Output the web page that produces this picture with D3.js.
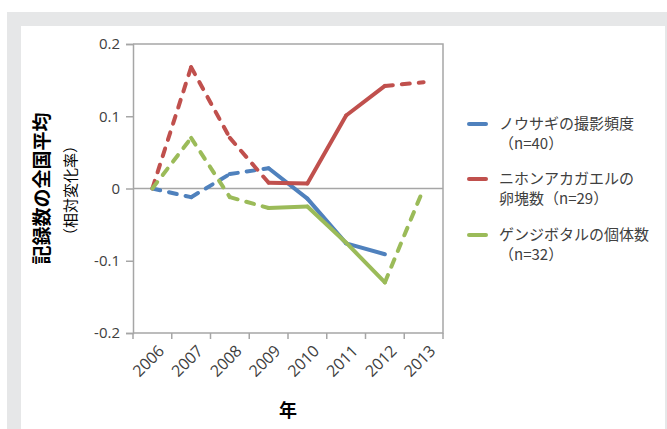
<!DOCTYPE html>
<html>
<head>
<meta charset="utf-8">
<script src="https://cdn.jsdelivr.net/npm/d3@7"></script>
<style>
  html, body { margin: 0; padding: 0; background: #ffffff; }
  svg { display: block; }
</style>
</head>
<body>
<svg id="chart" width="667" height="429"></svg>
<script>
// Years on the horizontal axis
const years = ["2006", "2007", "2008", "2009", "2010", "2011", "2012", "2013"];

// Relative change of the national mean record count per year
const hareValues = [0, -0.012, 0.02, 0.028, -0.014, -0.076, -0.091, null];
const frogValues = [0, 0.168, 0.07, 0.008, 0.007, 0.101, 0.142, 0.147];
const fireflyValues = [0, 0.07, -0.012, -0.027, -0.025, -0.075, -0.13, 0];

// Segment i joins year i and year i+1; true = dashed
const hareDashed = [true, true, true, false, false, false, false];
const frogDashed = [true, true, true, false, false, false, true];
const fireflyDashed = [true, true, true, false, false, false, true];

const seriesNames = [
  ["ノウサギの撮影頻度", "（n=40）"],
  ["ニホンアカガエルの", "卵塊数（n=29）"],
  ["ゲンジボタルの個体数", "（n=32）"]
];
const seriesColors = ["#4f81bd", "#c0504d", "#9bbb59"];

const yTicks = [0.2, 0.1, 0, -0.1, -0.2];
const yTickLabels = ["0.2", "0.1", "0", "-0.1", "-0.2"];
const yTitle = "記録数の全国平均";
const ySubTitle = "（相対変化率）";
const xTitle = "年";

const series = [
  { values: hareValues, dashed: hareDashed },
  { values: frogValues, dashed: frogDashed },
  { values: fireflyValues, dashed: fireflyDashed }
];

const svg = d3.select("#chart");
const W = 667, H = 429;
const numFont = "'Open Sans', 'Noto Sans CJK JP', sans-serif";
const jpFont = "'Noto Sans CJK JP', sans-serif";
const axisColor = "#a6a6a6";
const textColor = "#404040";

// frame
svg.append("rect").attr("x", 7).attr("y", 12).attr("width", W - 7).attr("height", H - 12).attr("fill", "#e6e7e8");
svg.append("rect").attr("x", 21).attr("y", 26).attr("width", 665 - 21).attr("height", H - 26).attr("fill", "#ffffff");

const plot = { left: 133, top: 44, right: 443, bottom: 333 };

const x = d3.scaleBand().domain(years).range([plot.left, plot.right]).padding(0);
const y = d3.scaleLinear().domain([-0.2, 0.2]).range([plot.bottom, plot.top]);
const xc = d => x(d) + x.bandwidth() / 2;

// plot border (top, right and bottom)
svg.append("path")
  .attr("d", `M${plot.left},${plot.top}H${plot.right}V${plot.bottom}H${plot.left}`)
  .attr("fill", "none").attr("stroke", axisColor).attr("stroke-width", 1.5);

// y axis
const yAxis = d3.axisLeft(y).tickValues(yTicks).tickSize(7).tickPadding(6)
  .tickFormat((d, i) => yTickLabels[i]);
const gy = svg.append("g").attr("transform", `translate(${plot.left},0)`).call(yAxis);
gy.select(".domain").attr("stroke", axisColor).attr("stroke-width", 1.5);
gy.selectAll(".tick line").attr("stroke", axisColor).attr("stroke-width", 1.5);
gy.selectAll(".tick text").attr("fill", textColor).attr("font-family", numFont).attr("font-size", 15);

// zero line
svg.append("line")
  .attr("x1", plot.left).attr("x2", plot.right)
  .attr("y1", y(0)).attr("y2", y(0))
  .attr("stroke", axisColor).attr("stroke-width", 1.5);

// x axis tick marks at band boundaries
const boundaries = years.map(d => x(d)).concat([plot.right]);
svg.append("g").selectAll("line").data(boundaries).enter().append("line")
  .attr("x1", d => d).attr("x2", d => d).attr("y1", plot.bottom).attr("y2", plot.bottom + 6)
  .attr("stroke", axisColor).attr("stroke-width", 1.5);

// rotated year labels
svg.append("g").selectAll("text").data(years).enter().append("text")
  .attr("transform", d => `translate(${xc(d) + 9},${plot.bottom + 15}) rotate(-45)`)
  .attr("text-anchor", "end")
  .attr("dy", "0.35em")
  .attr("fill", textColor)
  .attr("font-family", numFont)
  .attr("font-size", 16)
  .text(d => d);

// lines, drawn segment by segment
const lineGen = d3.line().x(d => xc(d.year)).y(d => y(d.value));
series.forEach((s, si) => {
  const pts = years.map((yr, i) => ({ year: yr, value: s.values[i] }));
  s.dashed.forEach((isDashed, i) => {
    const a = pts[i], b = pts[i + 1];
    if (a.value == null || b.value == null) return;
    svg.append("path")
      .attr("d", lineGen([a, b]))
      .attr("fill", "none")
      .attr("stroke", seriesColors[si])
      .attr("stroke-width", 4)
      .attr("stroke-linecap", "round")
      .attr("stroke-linejoin", "round")
      .attr("stroke-dasharray", isDashed ? "8,9" : null);
  });
});

// axis titles
svg.append("text")
  .attr("transform", `translate(49,${(plot.top + plot.bottom) / 2}) rotate(-90)`)
  .attr("text-anchor", "middle")
  .attr("font-family", jpFont).attr("font-weight", "bold").attr("font-size", 19)
  .attr("fill", "#000000")
  .text(yTitle);
svg.append("text")
  .attr("transform", `translate(76,${(plot.top + plot.bottom) / 2 + 2}) rotate(-90)`)
  .attr("text-anchor", "middle")
  .attr("font-family", jpFont).attr("font-size", 15)
  .attr("fill", "#000000")
  .text(ySubTitle);
svg.append("text")
  .attr("x", (plot.left + plot.right) / 2)
  .attr("y", 417)
  .attr("text-anchor", "middle")
  .attr("font-family", jpFont).attr("font-weight", "bold").attr("font-size", 18)
  .attr("fill", "#000000")
  .text(xTitle);

// legend
const legendTop = [124, 179, 235];
const legend = svg.append("g");
seriesNames.forEach((lines, i) => {
  const g = legend.append("g").attr("transform", `translate(0,${legendTop[i]})`);
  g.append("line").attr("x1", 469).attr("x2", 486).attr("y1", 0).attr("y2", 0)
    .attr("stroke", seriesColors[i]).attr("stroke-width", 4).attr("stroke-linecap", "round");
  lines.forEach((t, j) => {
    g.append("text")
      .attr("x", 499).attr("y", j * 20)
      .attr("dy", "0.35em")
      .attr("font-family", jpFont).attr("font-size", 15)
      .attr("fill", textColor)
      .text(t);
  });
});
</script>
</body>
</html>
